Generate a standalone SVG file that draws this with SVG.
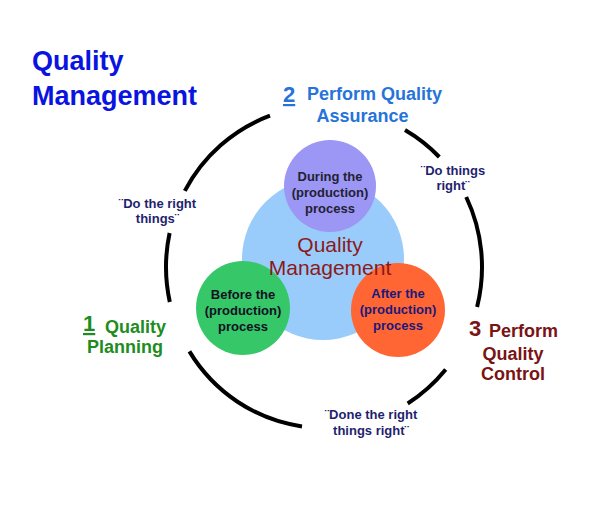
<svg xmlns="http://www.w3.org/2000/svg" width="600" height="515" viewBox="0 0 600 515">
<style>
  text { font-family: "Liberation Sans", Arial, sans-serif; }
  .b { font-weight: bold; }
  .arc { fill: none; stroke: #000; stroke-width: 4; stroke-linecap: butt; }
  .circ { font-size: 13px; font-weight: bold; text-anchor: middle; }
  .quote { font-size: 13px; font-weight: bold; fill: #1F1F70; text-anchor: middle; }
  .lbl { font-size: 18px; font-weight: bold; }
  .num { font-size: 22px; font-weight: bold; }
</style>
<rect width="600" height="515" fill="#fff"/>

<g id="title">
  <text x="32" y="70" class="b" font-size="27" fill="#0A14E0">Quality</text>
  <text x="32" y="105" class="b" font-size="27" fill="#0A14E0">Management</text>
</g>

<g id="connectors">
  <path class="arc" d="M 270,115.7 A 158 161 0 0 0 184.8,190.9"/>
  <path class="arc" d="M 169.6,233 A 158 161 0 0 0 169.8,302"/>
  <path class="arc" d="M 189.4,351.4 A 158 161 0 0 0 302,426.4"/>
  <path class="arc" d="M 407.7,403.5 A 158 161 0 0 0 445.7,369.6"/>
  <path class="arc" d="M 477.1,307 A 158 161 0 0 0 466.2,197"/>
  <path class="arc" d="M 439.3,157 A 158 161 0 0 0 405,130"/>
</g>

<g id="center-quality-management">
  <circle cx="323" cy="259" r="81" fill="#99CCFA"/>
</g>
<g id="during">
  <circle cx="330" cy="186" r="46" fill="#9C96F5"/>
  <text class="circ" fill="#222233"><tspan x="330" y="181">During the</tspan><tspan x="330" y="197">(production)</tspan><tspan x="330" y="213">process</tspan></text>
</g>
<g id="before">
  <circle cx="243" cy="308" r="47" fill="#35C768"/>
  <text class="circ" fill="#111122"><tspan x="243" y="299">Before the</tspan><tspan x="243" y="315">(production)</tspan><tspan x="243" y="331">process</tspan></text>
</g>
<g id="after">
  <circle cx="398" cy="310" r="47" fill="#FF6633"/>
  <text class="circ" fill="#1A1A7A"><tspan x="398" y="298">After the</tspan><tspan x="398" y="314">(production)</tspan><tspan x="398" y="330">process</tspan></text>
</g>
<g id="center-label">
  <text x="330" y="252" font-size="21" fill="#8B1A1A" text-anchor="middle">Quality</text>
  <text x="330" y="275" font-size="21" fill="#8B1A1A" text-anchor="middle">Management</text>
</g>

<g id="step2">
  <text x="283" y="102" class="num" fill="#2673D9" text-decoration="underline">2</text>
  <text x="307" y="100" class="lbl" fill="#2673D9">Perform Quality</text>
  <text x="362.5" y="122" class="lbl" fill="#2673D9" text-anchor="middle">Assurance</text>
</g>
<g id="step1">
  <text x="83" y="331" class="num" fill="#1E8C1E" text-decoration="underline">1</text>
  <text x="105" y="333" class="lbl" fill="#1E8C1E">Quality</text>
  <text x="87" y="353" class="lbl" fill="#1E8C1E">Planning</text>
</g>
<g id="step3">
  <text x="469" y="336" class="num" fill="#7A1414">3</text>
  <text x="489" y="337" class="lbl" fill="#7A1414">Perform</text>
  <text x="513" y="360" class="lbl" fill="#7A1414" text-anchor="middle">Quality</text>
  <text x="513" y="380" class="lbl" fill="#7A1414" text-anchor="middle">Control</text>
</g>

<g id="quote-left">
  <text class="quote"><tspan x="157.5" y="208">¨Do the right</tspan><tspan x="157.5" y="223">things¨</tspan></text>
</g>
<g id="quote-right">
  <text class="quote"><tspan x="453" y="175">¨Do things</tspan><tspan x="453" y="190">right¨</tspan></text>
</g>
<g id="quote-bottom">
  <text class="quote"><tspan x="371" y="419">¨Done the right</tspan><tspan x="371" y="435">things right¨</tspan></text>
</g>
</svg>
